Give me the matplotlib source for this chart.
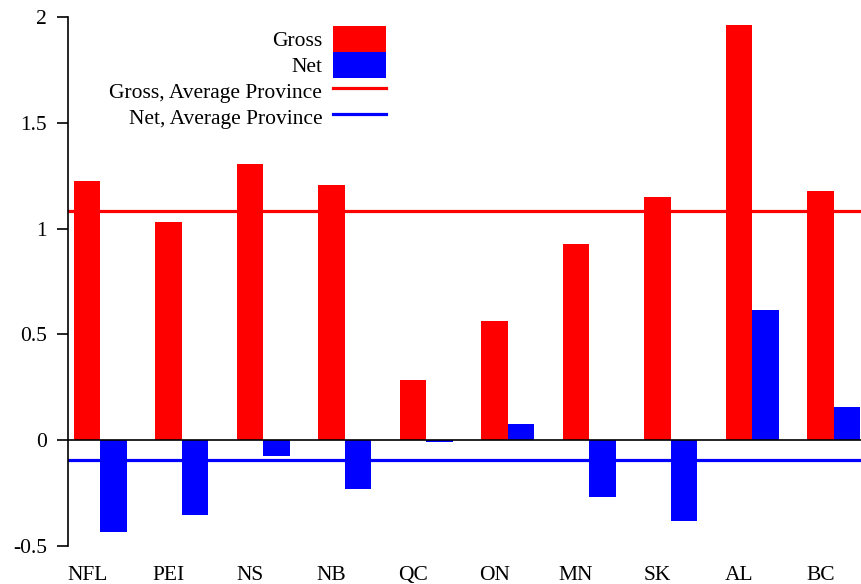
import numpy as np
import matplotlib
matplotlib.use("Agg")
import matplotlib.pyplot as plt
from matplotlib.ticker import FuncFormatter

# provinces and their values
provinces = ["NFL", "PEI", "NS", "NB", "QC", "ON", "MN", "SK", "AL", "BC"]
gross = [1.225, 1.03, 1.305, 1.205, 0.285, 0.562, 0.925, 1.148, 1.962, 1.18]
net = [-0.435, -0.355, -0.075, -0.232, -0.01, 0.076, -0.27, -0.383, 0.614, 0.156]
gross_avg = 1.082
net_avg = -0.093

FS = 15.5
plt.rcParams["font.family"] = ["Liberation Serif", "DejaVu Serif"]
plt.rcParams["axes.unicode_minus"] = False

fig = plt.figure(figsize=(8.62, 5.84), dpi=100)
ax = fig.add_axes([68 / 862, 1 - 546 / 584, 1 - 68 / 862, (546 - 17) / 584])

x = np.arange(len(provinces))
w = 0.325
b1 = ax.bar(x, gross, width=w, color="#ff0000", label="Gross", zorder=2)
b2 = ax.bar(x + w, net, width=w, color="#0000ff", label="Net", zorder=2)
ax.axhline(0, color="black", lw=1.2, zorder=3)
l1 = ax.axhline(gross_avg, color="#ff0000", lw=2.3, label="Gross, Average Province", zorder=1)
l2 = ax.axhline(net_avg, color="#0000ff", lw=2.3, label="Net, Average Province", zorder=1)

ax.set_xlim(-0.236, 9.51)
ax.set_ylim(-0.5, 2)
ax.set_yticks([-0.5, 0, 0.5, 1, 1.5, 2])
ax.yaxis.set_major_formatter(FuncFormatter(lambda v, p: "%g" % v))
ax.set_xticks(x)
ax.set_xticklabels(provinces)
for t in ax.get_xticklabels():
    t.set_va("baseline")

for s in ["top", "right", "bottom"]:
    ax.spines[s].set_visible(False)
ax.spines["left"].set_linewidth(1.2)
ax.tick_params(axis="y", length=8, width=1.2, pad=7, labelsize=FS)
ax.tick_params(axis="x", length=0, pad=24.5, labelsize=FS)

# legend: text on the left, patches stacked with no gap
fs_px = FS * 100 / 72
ax.legend([b1, b2, l1, l2], [b1.get_label(), b2.get_label(), l1.get_label(), l2.get_label()],
          loc="upper right", bbox_to_anchor=(386 / 862, 1 - 26 / 584),
          bbox_transform=fig.transFigure, frameon=False, markerfirst=False,
          borderpad=0, borderaxespad=0, labelspacing=0, handletextpad=0.5,
          handlelength=53 / fs_px, handleheight=1.48, fontsize=FS)

fig.savefig("out.png", dpi=100)
